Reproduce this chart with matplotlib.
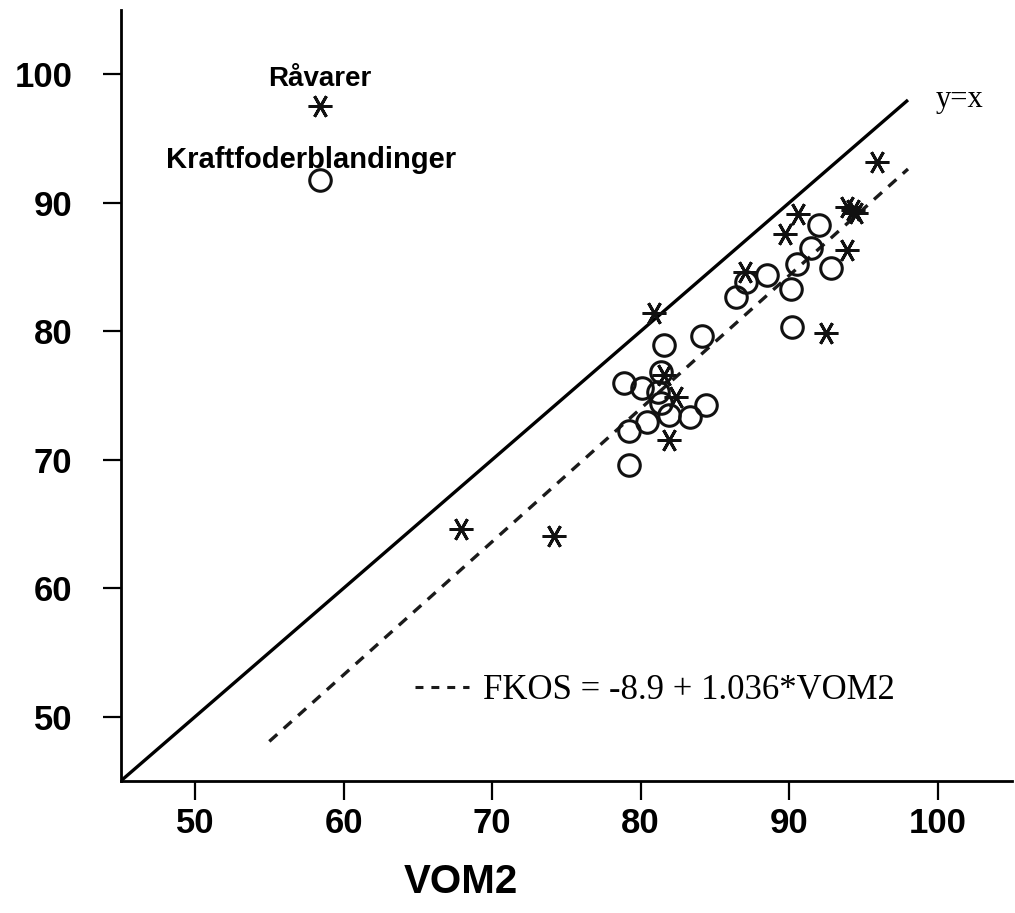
import numpy as np
import matplotlib
matplotlib.use("Agg")
import matplotlib.pyplot as plt
from matplotlib.lines import Line2D

# kraftfoderblandinger (cirkler)
kf_vom2 = [58.4, 81.6, 78.9, 80.1, 81.4, 81.2, 81.4, 84.4, 83.3, 81.9, 80.4,
           79.2, 79.2, 84.1, 86.4, 87.1, 88.5, 90.1, 90.5, 91.5, 92.0, 92.8, 90.2]
kf_fkos = [91.8, 78.9, 76.0, 75.6, 76.8, 75.3, 74.4, 74.3, 73.3, 73.5, 72.9,
           72.2, 69.6, 79.6, 82.7, 83.8, 84.4, 83.3, 85.2, 86.5, 88.3, 84.9, 80.3]

# raavarer (stjerner)
rv_vom2 = [58.4, 95.9, 93.9, 94.3, 94.5, 90.6, 89.7, 87.0, 93.9, 92.5, 80.9,
           67.9, 74.2, 82.4, 81.9, 81.6]
rv_fkos = [97.5, 93.2, 89.7, 89.4, 89.2, 89.1, 87.6, 84.6, 86.3, 79.9, 81.4,
           64.6, 64.1, 74.9, 71.5, 76.6]

# regressionslinje
a, b = -8.9, 1.036
reg_x = np.array([55, 98])
diag_x = np.array([45, 98])

plt.rcParams['font.family'] = ['Liberation Sans', 'DejaVu Sans']

fig = plt.figure(figsize=(10.15, 9.13), dpi=100)
ax = fig.add_axes([0.119, 0.1446, 0.878, 0.8444])

ax.plot(diag_x, diag_x, color='black', lw=2.4, solid_capstyle='butt')
ax.plot(reg_x, a + b * reg_x, color='#1a1a1a', lw=2.4, dashes=(3.2, 2.6))

ax.plot(kf_vom2, kf_fkos, linestyle='none', marker='o', markersize=15.5,
        markerfacecolor='none', markeredgecolor='#111111', markeredgewidth=2.2)
ax.plot(rv_vom2, rv_fkos, linestyle='none', marker=(6, 2, 90), markersize=17,
        markeredgecolor='#111111', markeredgewidth=2.1)

ax.text(58.4, 99.6, 'Råvarer', ha='center', va='center', fontsize=20, fontweight='bold')
ax.text(57.8, 93.3, 'Kraftfoderblandinger', ha='center', va='center', fontsize=21, fontweight='bold')
ax.text(101.5, 98.0, 'y=x', ha='center', va='center', fontsize=22, family='Liberation Serif')

handle = Line2D([], [], color='#1a1a1a', lw=2.2, dashes=(2.6, 2.6))
leg = ax.legend([handle], ['FKOS = -8.9 + 1.036*VOM2'], loc='center left',
                bbox_to_anchor=(0.33, 0.117), frameon=False, handlelength=1.55,
                handletextpad=0.4, borderpad=0, borderaxespad=0,
                prop={'family': 'Liberation Serif', 'size': 25})

ax.set_xlim(45, 105)
ax.set_ylim(45, 105)
ax.set_xticks([50, 60, 70, 80, 90, 100])
ax.set_yticks([50, 60, 70, 80, 90, 100])
for lab in ax.get_xticklabels() + ax.get_yticklabels():
    lab.set_fontweight('bold')
ax.tick_params(axis='x', length=14, width=1.6, pad=5, labelsize=25)
ax.tick_params(axis='y', length=13, width=1.6, pad=22, labelsize=25)

ax.spines['top'].set_visible(False)
ax.spines['right'].set_visible(False)
ax.spines['left'].set_linewidth(2.0)
ax.spines['bottom'].set_linewidth(2.0)

ax.set_xlabel('VOM2', fontsize=29, fontweight='bold')
ax.xaxis.set_label_coords(0.382, -0.107)

fig.savefig('out.png', dpi=100)
